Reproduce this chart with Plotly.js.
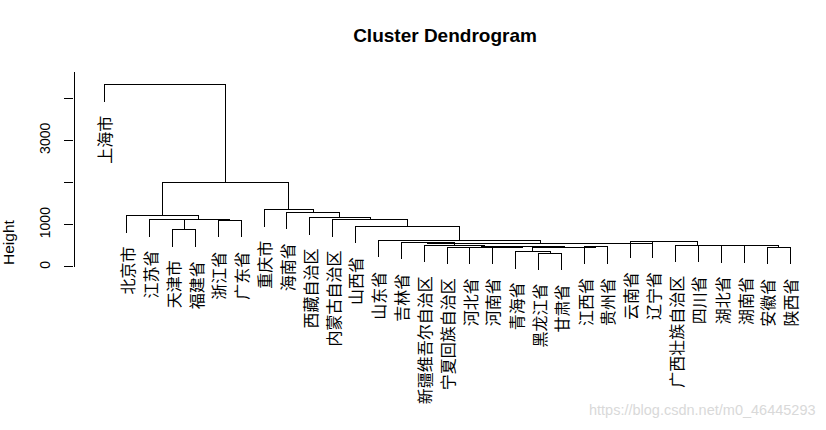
<!DOCTYPE html>
<html><head><meta charset="utf-8">
<script src="https://cdn.plot.ly/plotly-3.0.1.min.js"></script>
<style>
body{margin:0;background:#fff}
#chart{width:826px;height:430px}
.scatterlayer path,.shapelayer path,.ytick{shape-rendering:crispEdges}
</style>
</head><body><div id="chart"></div>
<script>
// Leaves in dendrogram order (left to right)
const labels = ['上海市','北京市','江苏省','天津市','福建省','浙江省','广东省','重庆市','海南省',
  '西藏自治区','内蒙古自治区','山西省','山东省','吉林省','新疆维吾尔自治区','宁夏回族自治区',
  '河北省','河南省','青海省','黑龙江省','甘肃省','江西省','贵州省','云南省','辽宁省',
  '广西壮族自治区','四川省','湖北省','湖南省','安徽省','陕西省'];

// Merge steps (R-style: negative = leaf position, positive = earlier merge step)
const mergeLeft  = [-20,-19,-30,-17,-22, 2, 4,-16,-15,-14,-29,-28,-27,-26,-25,-24,10,-13,-12,-11,-10,-9,-8,-4,-3,-6,25,-2,28,-1];
const mergeRight = [-21,  1,-31,-18,-23, 5, 6,  7,  8,  9,  3, 11, 12, 13, 14, 15,16, 17, 18, 19, 20,21,22,-5,24,-7,26,27,23,29];
const mergeHeight= [325,356,457,458,474,455,490,460,515,576,498,500,503,515,605,610,557,624,956,1115,1162,1288,1352,877,1112,1098,1120,1209,2008,4316];

const tickValues = [0,1000,2000,3000,4000];
const tickLabels = ['0','1000','','3000',''];
const axisTop = 4620;
const titleText = 'Cluster Dendrogram';
const yLabel = 'Height';
const watermark = 'https://blog.csdn.net/m0_46445293';

const hMax = Math.max(...mergeHeight), hMin = Math.min(...mergeHeight);
const hang = 0.1 * (hMax - hMin);
const nodeX = [], nodeH = [], xs = [], ys = [], leafEnd = {};
for (let k = 0; k < mergeLeft.length; k++) {
  const h = mergeHeight[k], a = mergeLeft[k], b = mergeRight[k];
  const ax = a < 0 ? -a : nodeX[a-1];
  const bx = b < 0 ? -b : nodeX[b-1];
  const ay = a < 0 ? h - hang : nodeH[a-1];
  const by = b < 0 ? h - hang : nodeH[b-1];
  if (a < 0) leafEnd[-a] = h - hang;
  if (b < 0) leafEnd[-b] = h - hang;
  xs.push(ax, ax, bx, bx, null); ys.push(ay, h, h, by, null);
  nodeX.push((ax + bx) / 2); nodeH.push(h);
}

const annotations = labels.map((t, i) => ({
  x: i + 1, y: leafEnd[i + 1], xref: 'x', yref: 'y', text: t, textangle: -90,
  xanchor: 'center', yanchor: 'top', yshift: -12, showarrow: false,
  font: {family: 'Noto Sans CJK SC', size: 16, color: '#000'}
}));
annotations.push({x: (8 - 74) / 742, y: (309 - 243) / 249, xref: 'paper', yref: 'paper',
  text: yLabel, textangle: -90, xanchor: 'center', yanchor: 'middle', showarrow: false,
  font: {family: 'Liberation Sans, Arial', size: 15.5, color: '#000'}});
annotations.push({x: (818 - 74) / 742, y: (309 - 410) / 249, xref: 'paper', yref: 'paper',
  text: watermark, xanchor: 'right', yanchor: 'middle', showarrow: false,
  font: {family: 'Liberation Sans, Arial', size: 14.5, color: '#d9d9d9'}});

const data = [{x: xs, y: ys, type: 'scatter', mode: 'lines', hoverinfo: 'skip',
  line: {color: '#000', width: 1}}];

const layout = {
  width: 826, height: 430,
  margin: {l: 74, r: 10, t: 60, b: 121},
  paper_bgcolor: '#fff', plot_bgcolor: '#fff', showlegend: false,
  title: {text: '<b>' + titleText + '</b>', x: 0.5, xref: 'paper', xanchor: 'center',
    y: 1 - 35 / 430, yref: 'container', yanchor: 'middle',
    font: {family: 'Liberation Sans, Arial', size: 19, color: '#000'}},
  xaxis: {range: [-0.3118, 32.13], visible: false},
  yaxis: {range: [-1000, 4908], showgrid: false, zeroline: false, showline: false,
    ticks: 'outside', ticklen: 9, tickwidth: 1, tickcolor: '#000',
    tickmode: 'array', tickvals: tickValues, ticktext: tickLabels, tickangle: -90,
    ticklabelstandoff: 8,
    tickfont: {family: 'Liberation Sans, Arial', size: 14, color: '#000'}},
  shapes: [{type: 'line', xref: 'paper', yref: 'y', x0: 0, x1: 0, y0: 0, y1: axisTop,
    line: {color: '#000', width: 1}}],
  annotations: annotations
};
Plotly.newPlot('chart', data, layout, {displayModeBar: false, staticPlot: true});
</script>
</body></html>
